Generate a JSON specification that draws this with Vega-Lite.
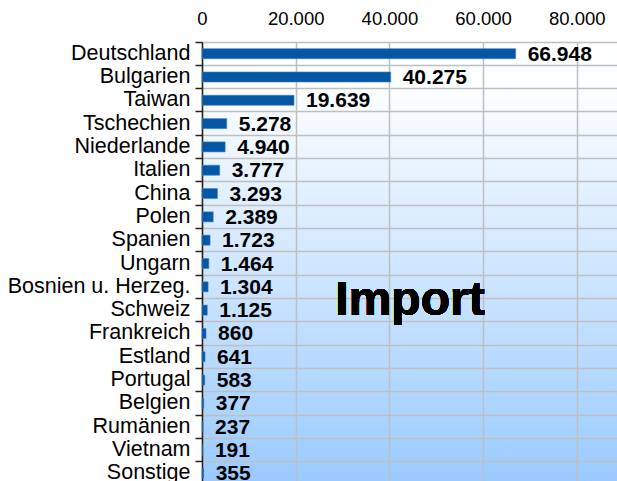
{
  "$schema": "https://vega.github.io/schema/vega-lite/v6.json",
  "width": 415,
  "height": 443,
  "autosize": {"type": "none"},
  "padding": {"left": 202, "top": 42, "right": 0, "bottom": 0},
  "background": "#ffffff",
  "config": {
    "locale": {"number": {"decimal": ",", "thousands": ".", "grouping": [3], "currency": ["", " €"]}},
    "font": "Liberation Sans",
    "view": {
      "stroke": null,
      "fill": {"gradient": "linear", "x1": 0, "y1": 0, "x2": 0, "y2": 1,
        "stops": [{"offset": 0, "color": "#ffffff"}, {"offset": 0.12, "color": "#fbfdff"}, {"offset": 1, "color": "#99caff"}]}
    }
  },
  "data": {"values": [
    {"land": "Deutschland", "wert": 66948},
    {"land": "Bulgarien", "wert": 40275},
    {"land": "Taiwan", "wert": 19639},
    {"land": "Tschechien", "wert": 5278},
    {"land": "Niederlande", "wert": 4940},
    {"land": "Italien", "wert": 3777},
    {"land": "China", "wert": 3293},
    {"land": "Polen", "wert": 2389},
    {"land": "Spanien", "wert": 1723},
    {"land": "Ungarn", "wert": 1464},
    {"land": "Bosnien u. Herzeg.", "wert": 1304},
    {"land": "Schweiz", "wert": 1125},
    {"land": "Frankreich", "wert": 860},
    {"land": "Estland", "wert": 641},
    {"land": "Portugal", "wert": 583},
    {"land": "Belgien", "wert": 377},
    {"land": "Rumänien", "wert": 237},
    {"land": "Vietnam", "wert": 191},
    {"land": "Sonstige", "wert": 355}
  ]},
  "encoding": {
    "y": {"field": "land", "type": "nominal", "sort": null,
      "scale": {"paddingInner": 0, "paddingOuter": 0},
      "axis": {"title": null, "bandPosition": 0, "grid": true, "gridColor": "#bfbfbf", "gridWidth": 1.5,
        "domainColor": "#222222", "domainWidth": 1.5, "tickColor": "#222222", "tickWidth": 1.5, "tickSize": 7,
        "labelFontSize": 21.5, "labelColor": "#000000", "labelPadding": 5, "labelBound": false, "labelOverlap": false,
        "labelLimit": 300}},
    "x": {"field": "wert", "type": "quantitative",
      "scale": {"domain": [0, 88580], "nice": false},
      "axis": {"orient": "top", "title": null, "values": [0, 20000, 40000, 60000, 80000], "format": ",d",
        "grid": true, "gridColor": "#bfbfbf", "gridWidth": 1.5, "domain": false, "ticks": false,
        "labelFontSize": 18.5, "labelColor": "#000000", "labelPadding": 14, "labelFlush": false}}
  },
  "layer": [
    {"mark": {"type": "bar", "size": 10, "color": "#0656a6", "stroke": "#3d7fc2", "strokeWidth": 0.6}},
    {"mark": {"type": "text", "align": "left", "baseline": "middle", "dx": 12, "dy": 1, "fontSize": 21, "fontWeight": "bold", "color": "#000000"},
      "encoding": {"text": {"field": "wert", "type": "quantitative", "format": ",d"}}},
    {"mark": {"type": "text", "align": "center", "baseline": "alphabetic", "fontSize": 48, "fontWeight": "bold", "color": "#000000", "dy": 5},
      "encoding": {"x": {"datum": 44400, "type": "quantitative"}, "y": {"datum": "Schweiz", "type": "nominal"}, "text": {"value": "Import"}}}
  ]
}
